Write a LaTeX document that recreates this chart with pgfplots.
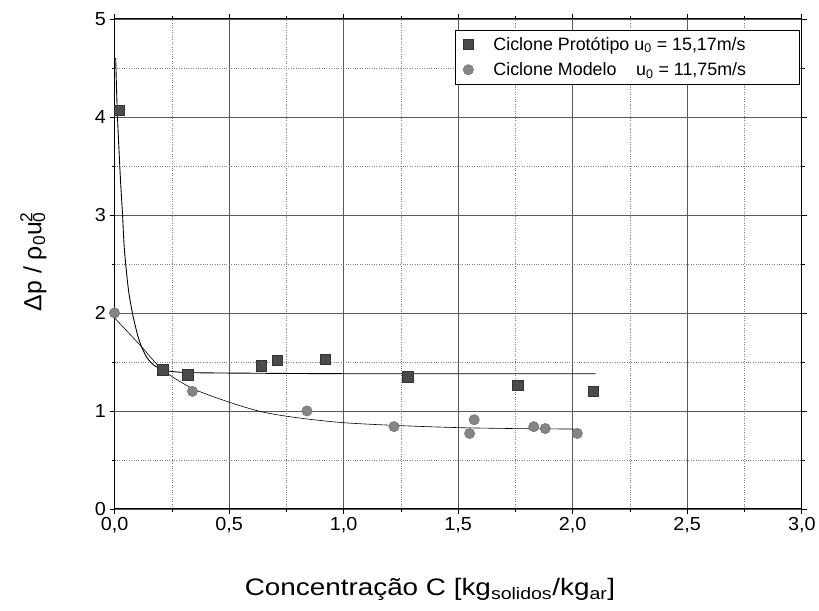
\documentclass[border=0pt]{standalone}
\usepackage{fontspec}
\setmainfont{Liberation Sans}
\usepackage{pgfplots}
\pgfplotsset{compat=1.18}
\definecolor{sqfill}{HTML}{4A4A4A}
\definecolor{cifill}{HTML}{858585}
\begin{document}
\begin{tikzpicture}
\begin{axis}[
  name=ax,
  scale only axis,
  width=690bp, height=492bp,
  xmin=0, xmax=3, ymin=0, ymax=5,
  xtick={0,0.5,...,3.0},
  ytick={0,1,...,5},
  minor x tick num=1,
  minor y tick num=1,
  grid=both,
  major grid style={gray!70!black, line width=0.6pt},
  minor grid style={gray, dotted, line width=0.6pt},
  axis line style={line width=1pt},
  tick align=outside,
  major tick length=5bp,
  minor tick length=3bp,
  tick style={black, line width=0.6pt},
  xticklabel style={/pgf/number format/.cd, use comma, fixed, fixed zerofill, precision=1},
  /pgf/number format/assume math mode=true,
  ticklabel style={font=\fontsize{19}{21}\selectfont, xscale=1.05},
  yticklabel style={/pgf/number format/fixed, /pgf/number format/precision=0},
  xlabel={Concentração C [kg\textsubscript{solidos}/kg\textsubscript{ar}]},
  xlabel style={at={(axis description cs:0.459,-0.165)}, anchor=center, font=\fontsize{24}{27}\selectfont, xscale=1.17},
  ylabel={Δp / ρ\textsubscript{0}u\rlap{\textsubscript{0}}\textsuperscript{2}},
  ylabel style={at={(axis description cs:-0.118,0.505)}, anchor=center, font=\fontsize{25}{28}\selectfont},
  legend style={at={(axis description cs:0.997,0.978)}, anchor=north east,
    font=\fontsize{18}{21}\selectfont, draw=black, line width=0.6pt,
    inner xsep=8bp, inner ysep=5bp, row sep=7bp, cells={anchor=west}},
  legend cell align=left,
]
\addplot[only marks, mark=square*, mark size=5.2bp, mark options={fill=sqfill, draw=black!80, line width=0.4pt}]
  coordinates {(0.02,4.07) (0.21,1.42) (0.32,1.37) (0.64,1.46) (0.71,1.52) (0.92,1.53) (1.28,1.35) (1.76,1.26) (2.09,1.20)};
\addlegendentry{\kern18bp Ciclone Protótipo u\textsubscript{0} = 15,17m/s\kern44bp\null}
\addplot[only marks, mark=*, mark size=5.2bp, mark options={fill=cifill, draw=black!60, line width=0.4pt}]
  coordinates {(0.0,2.0) (0.34,1.20) (0.84,1.00) (1.22,0.84) (1.55,0.77) (1.57,0.91) (1.83,0.84) (1.88,0.82) (2.02,0.77)};
\addlegendentry{\kern18bp Ciclone Modelo\hspace{1.1em}u\textsubscript{0} = 11,75m/s}
\addplot[black, line width=0.9pt, smooth, forget plot]
  coordinates {(0.005,4.6) (0.012,4.05) (0.025,3.4) (0.035,3.0) (0.043,2.65) (0.06,2.25) (0.078,2.0) (0.1,1.78) (0.117,1.66) (0.14,1.55) (0.17,1.47) (0.21,1.42) (0.26,1.40) (0.35,1.39) (0.6,1.385) (1.0,1.38) (1.5,1.38) (2.10,1.38)};
\addplot[black, line width=0.6pt, smooth, forget plot]
  coordinates {(0.0,1.95) (0.06,1.80) (0.12,1.65) (0.21,1.42) (0.34,1.23) (0.5,1.09) (0.645,0.99) (0.8,0.93) (1.0,0.88) (1.25,0.85) (1.5,0.83) (1.75,0.82) (2.02,0.815)};
\end{axis}
\useasboundingbox ([shift={(-115bp,-102bp)}]ax.south west) rectangle ([shift={(14bp,19bp)}]ax.north east);
\end{tikzpicture}
\end{document}
